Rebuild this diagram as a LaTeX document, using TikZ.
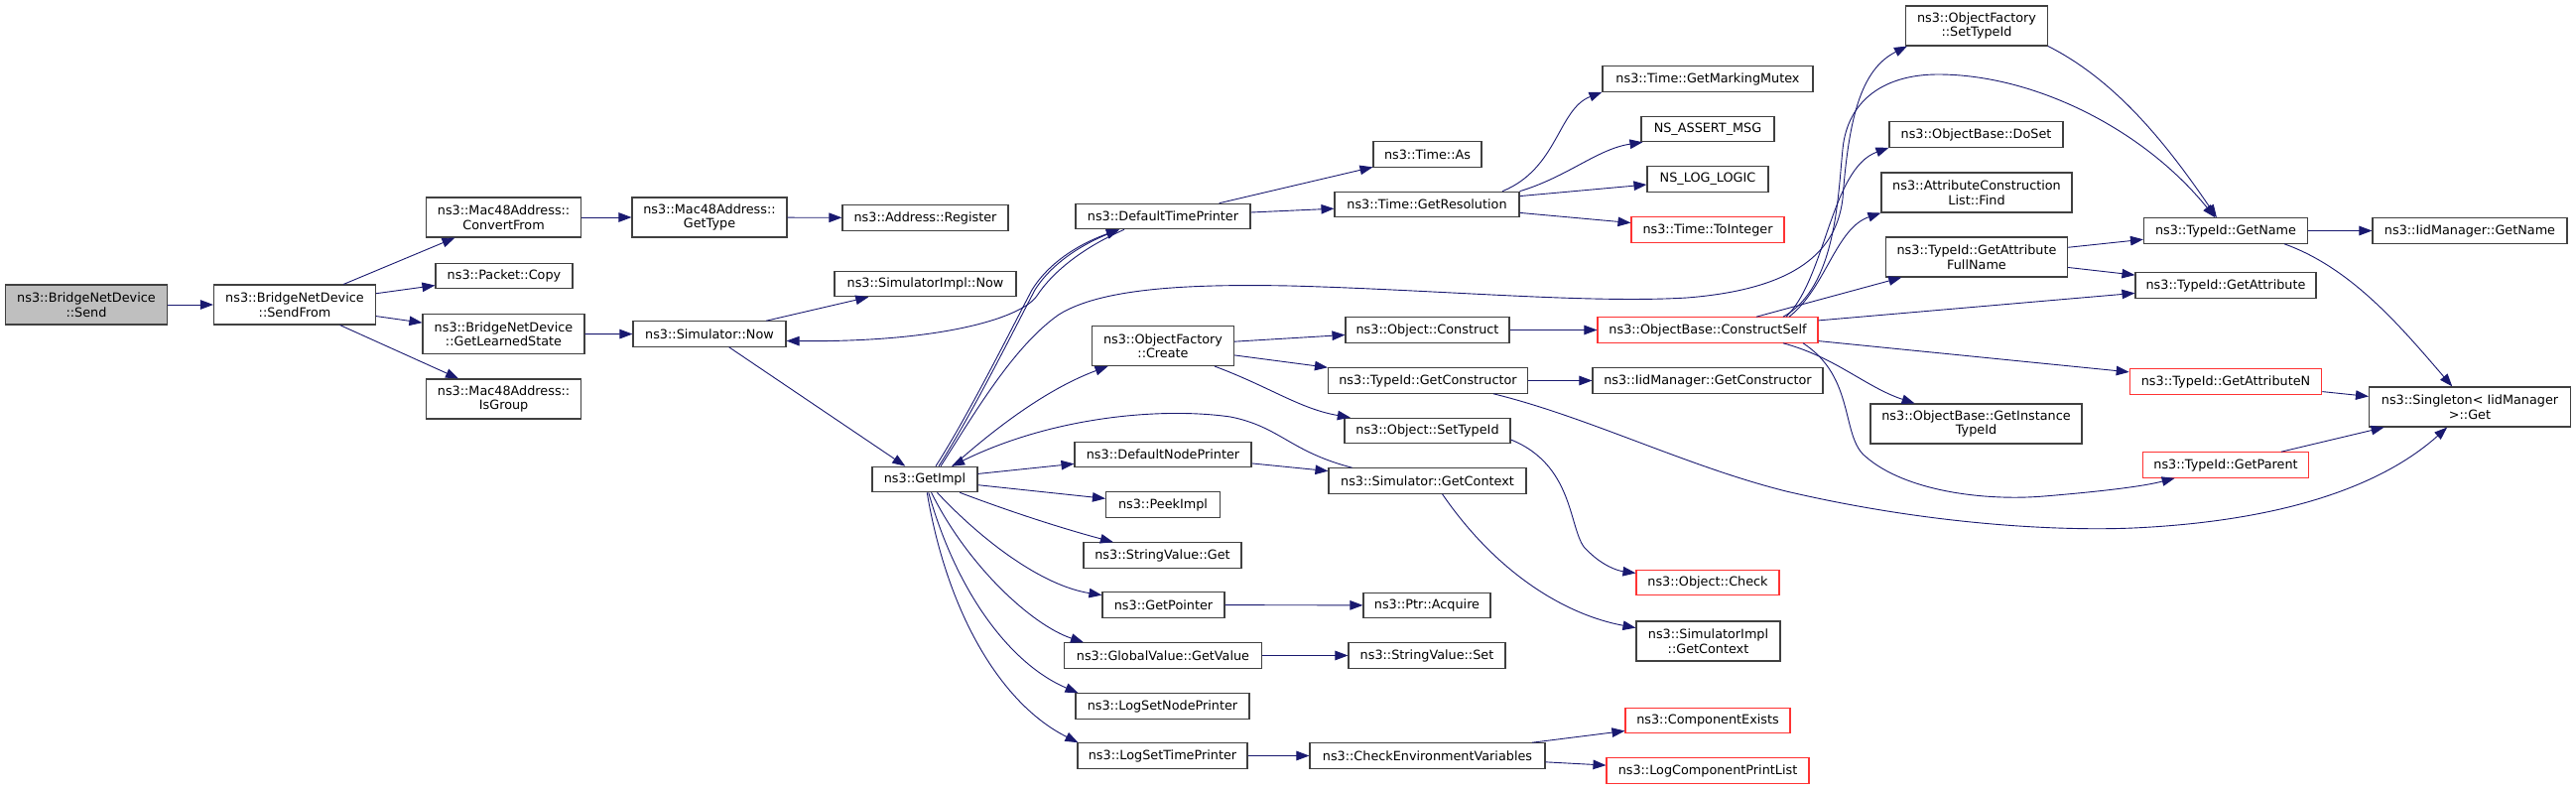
\documentclass[tikz,border=0pt]{standalone}
\usepackage{fontspec}
\setmainfont{DejaVu Sans}
\usepackage{tikz}
\usetikzlibrary{arrows.meta,positioning}
\definecolor{edgeblue}{HTML}{191970}
\definecolor{boxgray}{HTML}{BFBFBF}
\definecolor{boxline}{HTML}{404040}
\definecolor{truncred}{HTML}{FF3333}

\begin{document}
\begin{tikzpicture}[x=1pt, y=-1pt,
    fnbox/.style={rectangle, draw=boxline, fill=white, line width=1.1pt, inner sep=0pt,
                  align=center, font=\fontsize{12.8}{14.5}\selectfont},
    onel/.style={minimum height=25.5pt},
    twol/.style={minimum height=40pt},
    redbox/.style={draw=truncred},
    rootbox/.style={fill=boxgray},
    call/.style={draw=edgeblue, line width=0.9pt, -{Triangle[length=13pt,width=9.5pt]}}
]
    \path[use as bounding box, fill=white] (0,0) rectangle (2596,795);

    % columns 0-4
    \node[fnbox, twol, rootbox, minimum width=163pt] (send) at (87,307) {ns3::BridgeNetDevice\\::Send};
    \node[fnbox, twol, minimum width=163pt] (sendfrom) at (297,307) {ns3::BridgeNetDevice\\::SendFrom};
    \node[fnbox, twol, minimum width=156pt] (convfrom) at (507.6,219) {ns3::Mac48Address::\\ConvertFrom};
    \node[fnbox, onel, minimum width=138pt] (copy) at (508,278) {ns3::Packet::Copy};
    \node[fnbox, twol, minimum width=163pt] (learned) at (507.5,336.7) {ns3::BridgeNetDevice\\::GetLearnedState};
    \node[fnbox, twol, minimum width=156pt] (isgroup) at (507.6,402) {ns3::Mac48Address::\\IsGroup};
    \node[fnbox, twol, minimum width=156pt] (gettype) at (715,219) {ns3::Mac48Address::\\GetType};
    \node[fnbox, onel, minimum width=154pt] (simnow) at (715,336.5) {ns3::Simulator::Now};
    \node[fnbox, onel, minimum width=167pt] (register) at (932.5,219.5) {ns3::Address::Register};
    \node[fnbox, onel, minimum width=183pt] (implnow) at (932.5,286) {ns3::SimulatorImpl::Now};
    \node[fnbox, onel, minimum width=106pt] (getimpl) at (932,483) {ns3::GetImpl};

    % column 5
    \node[fnbox, onel, minimum width=176pt] (dtp) at (1172,218) {ns3::DefaultTimePrinter};
    \node[fnbox, twol, minimum width=143pt] (create) at (1172,348.5) {ns3::ObjectFactory\\::Create};
    \node[fnbox, onel, minimum width=178pt] (dnp) at (1172,458) {ns3::DefaultNodePrinter};
    \node[fnbox, onel, minimum width=115pt] (peekimpl) at (1172,508.5) {ns3::PeekImpl};
    \node[fnbox, onel, minimum width=159pt] (svget) at (1171.5,559.5) {ns3::StringValue::Get};
    \node[fnbox, onel, minimum width=123pt] (getpointer) at (1172.5,609.5) {ns3::GetPointer};
    \node[fnbox, onel, minimum width=199.5pt] (gvgetvalue) at (1172,660.5) {ns3::GlobalValue::GetValue};
    \node[fnbox, onel, minimum width=175pt] (lognode) at (1171.5,711.5) {ns3::LogSetNodePrinter};
    \node[fnbox, onel, minimum width=171pt] (logtime) at (1171.5,761.5) {ns3::LogSetTimePrinter};

    % column 6
    \node[fnbox, onel, minimum width=109pt] (timeas) at (1438.5,155.5) {ns3::Time::As};
    \node[fnbox, onel, minimum width=186pt] (getres) at (1438,206) {ns3::Time::GetResolution};
    \node[fnbox, onel, minimum width=165pt] (objconstruct) at (1438.5,332.5) {ns3::Object::Construct};
    \node[fnbox, onel, minimum width=201pt] (getctor) at (1439,383.5) {ns3::TypeId::GetConstructor};
    \node[fnbox, onel, minimum width=167pt] (objsettid) at (1438.5,434) {ns3::Object::SetTypeId};
    \node[fnbox, onel, minimum width=199pt] (simgetctx) at (1438.5,484.5) {ns3::Simulator::GetContext};
    \node[fnbox, onel, minimum width=128pt] (ptracquire) at (1438,610) {ns3::Ptr::Acquire};
    \node[fnbox, onel, minimum width=158pt] (svset) at (1438,660.5) {ns3::StringValue::Set};
    \node[fnbox, onel, minimum width=237pt] (checkenv) at (1438.5,761.5) {ns3::CheckEnvironmentVariables};

    % column 7
    \node[fnbox, onel, minimum width=212pt] (mutex) at (1721,79.5) {ns3::Time::GetMarkingMutex};
    \node[fnbox, onel, minimum width=134pt] (assertmsg) at (1721,130) {NS\_ASSERT\_MSG};
    \node[fnbox, onel, minimum width=122pt] (loglogic) at (1721,180.5) {NS\_LOG\_LOGIC};
    \node[fnbox, onel, redbox, minimum width=154pt] (tointeger) at (1721,231.5) {ns3::Time::ToInteger};
    \node[fnbox, onel, redbox, minimum width=222pt] (constructself) at (1721,332.5) {ns3::ObjectBase::ConstructSelf};
    \node[fnbox, onel, minimum width=232pt] (iidctor) at (1721,383.5) {ns3::IidManager::GetConstructor};
    \node[fnbox, onel, redbox, minimum width=144pt] (objcheck) at (1721,587) {ns3::Object::Check};
    \node[fnbox, twol, minimum width=145pt] (implgetctx) at (1721.5,646) {ns3::SimulatorImpl\\::GetContext};
    \node[fnbox, onel, redbox, minimum width=166pt] (compexists) at (1721,726) {ns3::ComponentExists};
    \node[fnbox, onel, redbox, minimum width=204pt] (logcompprint) at (1721,776.5) {ns3::LogComponentPrintList};

    % column 8
    \node[fnbox, twol, minimum width=143pt] (ofsettid) at (1992,26) {ns3::ObjectFactory\\::SetTypeId};
    \node[fnbox, onel, minimum width=175pt] (doset) at (1991.5,135.5) {ns3::ObjectBase::DoSet};
    \node[fnbox, twol, minimum width=192pt] (find) at (1992,194) {ns3::AttributeConstruction\\List::Find};
    \node[fnbox, twol, minimum width=183pt] (attrfullname) at (1992,259) {ns3::TypeId::GetAttribute\\FullName};
    \node[fnbox, twol, minimum width=213pt] (instancetid) at (1991.5,427) {ns3::ObjectBase::GetInstance\\TypeId};

    % columns 9-10
    \node[fnbox, onel, minimum width=165pt] (getname) at (2243,232.5) {ns3::TypeId::GetName};
    \node[fnbox, onel, minimum width=182pt] (getattr) at (2243,287.5) {ns3::TypeId::GetAttribute};
    \node[fnbox, onel, redbox, minimum width=193.5pt] (getattrn) at (2243,384.5) {ns3::TypeId::GetAttributeN};
    \node[fnbox, onel, redbox, minimum width=167pt] (getparent) at (2243,468.5) {ns3::TypeId::GetParent};
    \node[fnbox, onel, minimum width=196pt] (iidgetname) at (2489,232.5) {ns3::IidManager::GetName};
    \node[fnbox, twol, minimum width=203pt] (singleton) at (2489,410) {ns3::Singleton< IidManager\\ >::Get};

    % calls
    \draw[call] (send) -- (sendfrom);
    \draw[call] (sendfrom) -- (convfrom);
    \draw[call] (sendfrom) -- (copy);
    \draw[call] (sendfrom) -- (learned);
    \draw[call] (sendfrom) -- (isgroup);
    \draw[call] (convfrom) -- (gettype);
    \draw[call] (gettype) -- (register);
    \draw[call] (learned) -- (simnow);
    \draw[call] (simnow) -- (implnow);
    \draw[call] (simnow) -- (getimpl);

    \draw[call] ([xshift=11pt]getimpl.north) .. controls (975,420) and (1020,330) .. (1040,292)
        .. controls (1060,260) and (1095,243) .. ([xshift=-44pt]dtp.south);
    \draw[call] ([xshift=14pt]getimpl.north) .. controls (978,420) and (1023,330) .. (1043,292)
        .. controls (1062,262) and (1096,244) .. ([xshift=-44pt]dtp.south);
    \draw[call] ([xshift=-39pt]dtp.south) .. controls (1090,250) and (1060,275) .. (1045,298)
        .. controls (1030,320) and (950,345) .. ([yshift=-7pt]simnow.east);
    \draw[call] ([xshift=16pt]getimpl.north) .. controls (980,420) and (1020,350) .. (1067,317)
        .. controls (1110,290) and (1200,286) .. (1300,288)
        .. controls (1450,292) and (1600,306) .. (1700,300)
        .. controls (1800,292) and (1850,260) .. (1857,200)
        .. controls (1863,120) and (1875,70) .. ([xshift=2pt]ofsettid.south west);
    \draw[call] ([xshift=28pt]getimpl.north) .. controls (1010,425) and (1060,390) .. (create);
    \draw[call] (getimpl) -- (dnp);
    \draw[call] (getimpl) -- (peekimpl);
    \draw[call] (getimpl) .. controls (1030,520) and (1080,535) .. (svget);
    \draw[call] (getimpl) .. controls (990,545) and (1050,590) .. (getpointer);
    \draw[call] (getimpl) .. controls (975,570) and (1040,630) .. ([xshift=-80pt]gvgetvalue.north);
    \draw[call] (getimpl) .. controls (965,600) and (1020,670) .. ([xshift=-85pt]lognode.north);
    \draw[call] (getimpl) .. controls (955,620) and (1010,710) .. ([xshift=-85pt]logtime.north);
    \draw[call] ([xshift=-76pt]simgetctx.north) .. controls (1300,455) and (1290,430) .. (1240,420)
        .. controls (1170,410) and (1060,420) .. (getimpl);

    \draw[call] (dtp) -- (timeas);
    \draw[call] (dtp) -- (getres);
    \draw[call] ([xshift=76pt]getres.north) .. controls (1570,170) and (1570,110) .. (mutex.south west);
    \draw[call] (getres.north east) .. controls (1580,178) and (1610,150) .. ([xshift=2pt]assertmsg.south west);
    \draw[call] (getres) -- (loglogic);
    \draw[call] (getres) -- (tointeger);

    \draw[call] (create) -- (objconstruct);
    \draw[call] (create) -- (getctor);
    \draw[call] ([xshift=52pt]create.south) .. controls (1280,390) and (1310,412) .. (objsettid);
    \draw[call] (objconstruct) -- (constructself);
    \draw[call] (getctor) -- (iidctor);
    \draw[call] ([xshift=-35pt]getctor.south east) .. controls (1600,420) and (1700,470) .. (1800,495)
        .. controls (1950,530) and (2080,535) .. (2150,532)
        .. controls (2300,525) and (2400,490) .. (singleton);
    \draw[call] ([yshift=-9pt]objsettid.east) .. controls (1590,470) and (1580,540) .. (1600,555)
        .. controls (1615,570) and (1630,575) .. (objcheck);
    \draw[call] (dnp) -- (simgetctx);
    \draw[call] ([xshift=15pt]simgetctx.south) .. controls (1510,580) and (1580,620) .. (implgetctx);
    \draw[call] (getpointer) -- (ptracquire);
    \draw[call] (gvgetvalue) -- (svset);
    \draw[call] (logtime) -- (checkenv);
    \draw[call] (checkenv) -- (compexists);
    \draw[call] (checkenv) -- (logcompprint);

    \draw[call] (constructself) -- (attrfullname);
    \draw[call] ([xshift=79pt]constructself.north) .. controls (1840,280) and (1845,170) .. (doset.south west);
    \draw[call] ([xshift=82pt]constructself.north) .. controls (1840,290) and (1850,230) .. (find.south west);
    \draw[call] ([xshift=76pt]constructself.north) .. controls (1850,290) and (1852,200) .. (1857,150)
        .. controls (1862,100) and (1900,75) .. (1953,75)
        .. controls (2050,75) and (2160,130) .. (getname);
    \draw[call] (constructself) -- (getattr);
    \draw[call] (constructself) -- (getattrn);
    \draw[call] ([xshift=76pt]constructself.south) .. controls (1850,360) and (1880,390) .. (instancetid);
    \draw[call] ([xshift=96pt]constructself.south) .. controls (1870,380) and (1855,440) .. (1880,460)
        .. controls (1920,495) and (2000,505) .. (2060,500)
        .. controls (2120,495) and (2160,490) .. (getparent);
    \draw[call] (ofsettid.south east) .. controls (2130,80) and (2180,140) .. (getname);
    \draw[call] (attrfullname) -- (getname);
    \draw[call] (attrfullname) -- (getattr);
    \draw[call] (getname) -- (iidgetname);
    \draw[call] ([xshift=59pt]getname.south) .. controls (2370,270) and (2420,330) .. (singleton);
    \draw[call] (getattrn) -- (singleton);
    \draw[call] (getparent) -- (singleton);
\end{tikzpicture}
\end{document}
